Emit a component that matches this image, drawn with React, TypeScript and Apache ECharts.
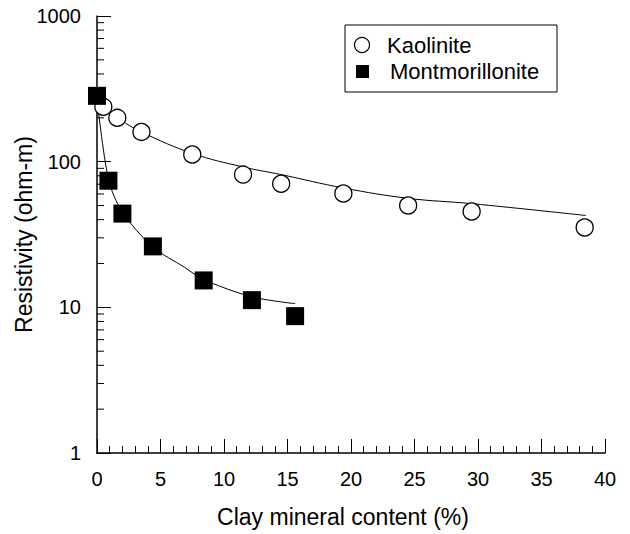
import React, { useEffect, useRef } from "react";
import * as echarts from "echarts";

const kaoliniteX = [0.5, 1.6, 3.5, 7.5, 11.5, 14.5, 19.4, 24.5, 29.5, 38.4];
const kaoliniteY = [238, 200, 160, 112, 81.5, 70.5, 60.5, 50, 45.5, 35.3];

const montX = [0, 0.9, 2.0, 4.4, 8.4, 12.2, 15.6];
const montY = [283, 74, 44, 26.2, 15.3, 11.2, 8.7];

const kaoFitX = [0, 0.5, 1.6, 3.5, 7.5, 11.5, 14.5, 19.4, 24.5, 29.5, 38.5];
const kaoFitY = [270, 238, 200, 160, 114, 92, 81.5, 66, 56, 51.5, 42.7];

const montFitX = [0, 0.9, 2.0, 4.4, 6.9, 8.4, 12.2, 15.6];
const montFitY = [270, 76, 45, 26, 18.8, 15.5, 11.8, 10.6];

const minorYTicks = [2, 3, 4, 5, 6, 7, 8, 9, 20, 30, 40, 50, 60, 70, 80, 90, 200, 300, 400, 500, 600, 700, 800, 900];

const FONT = "'Liberation Sans', Arial, Helvetica, sans-serif";

export default function App() {
  const ref = useRef<HTMLDivElement>(null);
  useEffect(() => {
    if (!ref.current) return;
    const chart = echarts.init(ref.current, null, { renderer: "svg" });
    const zip = (xs: number[], ys: number[]) => xs.map((x, i) => [x, ys[i]]);
    chart.setOption({
      animation: false,
      backgroundColor: "#fff",
      textStyle: { fontFamily: FONT, color: "#000" },
      grid: { left: 97, right: 25, top: 16, bottom: 81, containLabel: false, outerBoundsMode: "none" },
      xAxis: {
        type: "value",
        min: 0,
        max: 40,
        interval: 5,
        name: "Clay mineral content (%)",
        nameLocation: "middle",
        nameGap: 52,
        nameMoveOverlap: false,
        nameTextStyle: { fontSize: 23, color: "#000", fontFamily: FONT, padding: [0, 16, 0, 0] },
        axisLine: { show: true, lineStyle: { color: "#000", width: 1.5 } },
        axisTick: { show: true, inside: true, length: 14, lineStyle: { color: "#000", width: 1 } },
        minorTick: { show: true, splitNumber: 5, length: 7, lineStyle: { color: "#000", width: 1 } },
        axisLabel: { fontSize: 20, color: "#000", margin: 16, fontFamily: FONT },
        splitLine: { show: false },
        minorSplitLine: { show: false },
      },
      yAxis: {
        type: "log",
        logBase: 10,
        min: 1,
        max: 1000,
        name: "Resistivity (ohm-m)",
        nameLocation: "middle",
        nameGap: 62,
        nameMoveOverlap: false,
        nameTextStyle: { fontSize: 23, color: "#000", fontFamily: FONT },
        axisLine: { show: true, lineStyle: { color: "#000", width: 1.5 } },
        axisTick: { show: true, inside: true, length: 14, lineStyle: { color: "#000", width: 1 } },
        axisLabel: { fontSize: 20, color: "#000", margin: 16, fontFamily: FONT, formatter: (v: number) => String(Math.round(v)) },
        splitLine: { show: false },
      },
      graphic: [
        {
          type: "group",
          children: [
            { type: "rect", shape: { x: 345, y: 25, width: 212, height: 67 }, style: { fill: "#fff", stroke: "#000", lineWidth: 1 }, z: 10 },
            { type: "circle", shape: { cx: 362, cy: 45, r: 7.5 }, style: { fill: "#fff", stroke: "#000", lineWidth: 1.2 }, z: 11 },
            { type: "rect", shape: { x: 356, y: 65, width: 13, height: 13 }, style: { fill: "#000" }, z: 11 },
            { type: "text", x: 387, y: 45, style: { text: "Kaolinite", fontSize: 22, fontFamily: FONT, fill: "#000", verticalAlign: "middle" }, z: 11 },
            { type: "text", x: 390, y: 71, style: { text: "Montmorillonite", fontSize: 22, fontFamily: FONT, fill: "#000", verticalAlign: "middle" }, z: 11 },
          ],
        },
      ],
      series: [
        {
          type: "custom",
          name: "minorTicks",
          silent: true,
          clip: false,
          data: minorYTicks.map((v) => [0, v]),
          renderItem: (params: any, api: any) => {
            const p = api.coord([0, api.value(1)]);
            return {
              type: "line",
              shape: { x1: p[0], y1: p[1], x2: p[0] + 7, y2: p[1] },
              style: { stroke: "#000", lineWidth: 1 },
            };
          },
        },
        {
          type: "line",
          name: "Kaolinite fit",
          data: zip(kaoFitX, kaoFitY),
          smooth: 0.4,
          symbol: "none",
          lineStyle: { color: "#000", width: 1 },
          z: 2,
        },
        {
          type: "line",
          name: "Montmorillonite fit",
          data: zip(montFitX, montFitY),
          smooth: 0.3,
          symbol: "none",
          lineStyle: { color: "#000", width: 1 },
          z: 2,
        },
        {
          type: "scatter",
          name: "Kaolinite",
          data: zip(kaoliniteX, kaoliniteY),
          symbol: "circle",
          symbolSize: 17,
          itemStyle: { color: "#fff", borderColor: "#000", borderWidth: 1.3, opacity: 1 },
          z: 3,
        },
        {
          type: "scatter",
          name: "Montmorillonite",
          data: zip(montX, montY),
          symbol: "rect",
          symbolSize: 18,
          itemStyle: { color: "#000", opacity: 1 },
          z: 4,
        },
      ],
    });
    return () => chart.dispose();
  }, []);
  return <div ref={ref} style={{ position: "absolute", left: 0, top: 0, width: 630, height: 534 }} />;
}
